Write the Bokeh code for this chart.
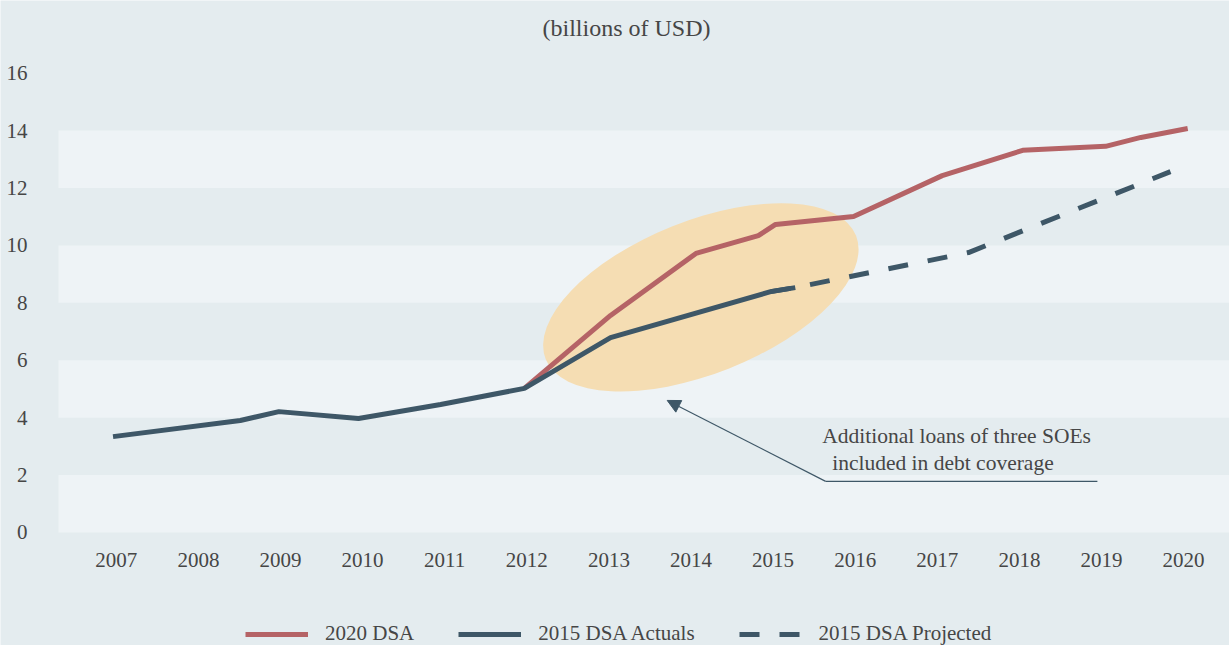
from bokeh.plotting import figure
from bokeh.models import (BoxAnnotation, Legend, LegendItem, Arrow, NormalHead,
                          FixedTicker, Range1d)
from bokeh.core.properties import value
from bokeh.embed import file_html
from bokeh.resources import INLINE

# ---------------- data ----------------
years = list(range(2007, 2021))
y_ticks = [0, 2, 4, 6, 8, 10, 12, 14, 16]

actual_x = [2006.96, 2008.51, 2008.98, 2009.95, 2010.95, 2011.97, 2013.02, 2014.97, 2015.27]
actual_y = [3.34, 3.90, 4.21, 3.97, 4.46, 5.02, 6.79, 8.39, 8.53]

dsa2020_x = [2011.97, 2013.02, 2014.06, 2014.82, 2015.03, 2015.98, 2017.06, 2018.04, 2019.05, 2019.48, 2020.05]
dsa2020_y = [5.02, 7.56, 9.72, 10.34, 10.73, 11.01, 12.43, 13.31, 13.45, 13.76, 14.07]

proj_x = [2014.97, 2015.27, 2017.38, 2019.84]
proj_y = [8.39, 8.53, 9.75, 12.57]

series_names = ["2020 DSA", "2015 DSA Actuals", "2015 DSA Projected"]
title_text = "(billions of USD)"
note_lines = ["Additional loans of three SOEs", "included in debt coverage"]

# ---------------- style ----------------
BG = "#e4ecef"
BAND = "#eef3f6"
RED = "#b56366"
DARK = "#3e5767"
TXT = "#464646"
FONT = "Liberation Serif"
HILITE = "#f5ddb3"
PLOT_LEFT = 2006.296   # left edge of the banded plot area (data units)

p = figure(width=1229, height=645, output_backend="svg", toolbar_location=None,
           x_range=Range1d(2005.5895, 2020.559), y_range=Range1d(-3.936, 18.530),
           min_border_left=0, min_border_right=0, min_border_top=0, min_border_bottom=0)
p.background_fill_color = BG
p.border_fill_color = BG
p.outline_line_color = None
p.grid.visible = False

# alternating horizontal bands
for lo in [0, 4, 8, 12]:
    p.add_layout(BoxAnnotation(left=PLOT_LEFT, bottom=lo, top=lo + 2, fill_color=BAND,
                               fill_alpha=1, line_color=None, level="underlay"))

# highlight ellipse
p.ellipse(x=[2014.12], y=[8.19], width=334, height=153, width_units="screen",
          height_units="screen", angle=0.379, fill_color=HILITE, line_color=None)

# lines
r_proj = p.line(proj_x, proj_y, line_color=DARK, line_width=5, line_dash="20 20")
r_red = p.line(dsa2020_x, dsa2020_y, line_color=RED, line_width=5)
r_act = p.line(actual_x, actual_y, line_color=DARK, line_width=5)

# annotation arrow + underline + note
p.add_layout(Arrow(end=NormalHead(size=13, fill_color=DARK, line_color=DARK, line_width=1),
                   x_start=2015.64, y_start=1.78, x_end=2013.71, y_end=4.60,
                   line_color=DARK, line_width=1.2))
p.segment(x0=[2015.64], y0=[1.78], x1=[2018.95], y1=[1.78], line_color=DARK, line_width=1.2)
p.text(x=[2015.598, 2015.72], y=[3.354, 2.414], text=note_lines,
       text_font=value(FONT), text_font_size="21.5px", text_color=TXT,
       text_baseline="middle", text_align="left")

# title
p.text(x=[2013.214], y=[17.555], text=[title_text], text_font=value(FONT),
       text_font_size="24px", text_color=TXT, text_baseline="middle", text_align="center")

# axes
p.xaxis.ticker = FixedTicker(ticks=years)
p.yaxis.ticker = FixedTicker(ticks=y_ticks)
for ax in (p.xaxis, p.yaxis):
    ax.axis_line_color = None
    ax.major_tick_line_color = None
    ax.minor_tick_line_color = None
    ax.major_label_text_font = FONT
    ax.major_label_text_font_size = "21px"
    ax.major_label_text_color = TXT
p.xaxis.fixed_location = 0
p.yaxis.fixed_location = PLOT_LEFT
p.xaxis.major_label_standoff = 15
p.yaxis.major_label_standoff = 25

legend = Legend(items=[LegendItem(label=series_names[0], renderers=[r_red]),
                       LegendItem(label=series_names[1], renderers=[r_act]),
                       LegendItem(label=series_names[2], renderers=[r_proj])],
                orientation="horizontal", location=(245, -1), glyph_width=63, glyph_height=20,
                label_standoff=17, spacing=44, padding=0, margin=0,
                background_fill_alpha=0, border_line_alpha=0,
                label_text_font=FONT, label_text_font_size="21px", label_text_color=TXT)
p.add_layout(legend, "center")

open("out.html", "w").write(file_html(p, INLINE))
